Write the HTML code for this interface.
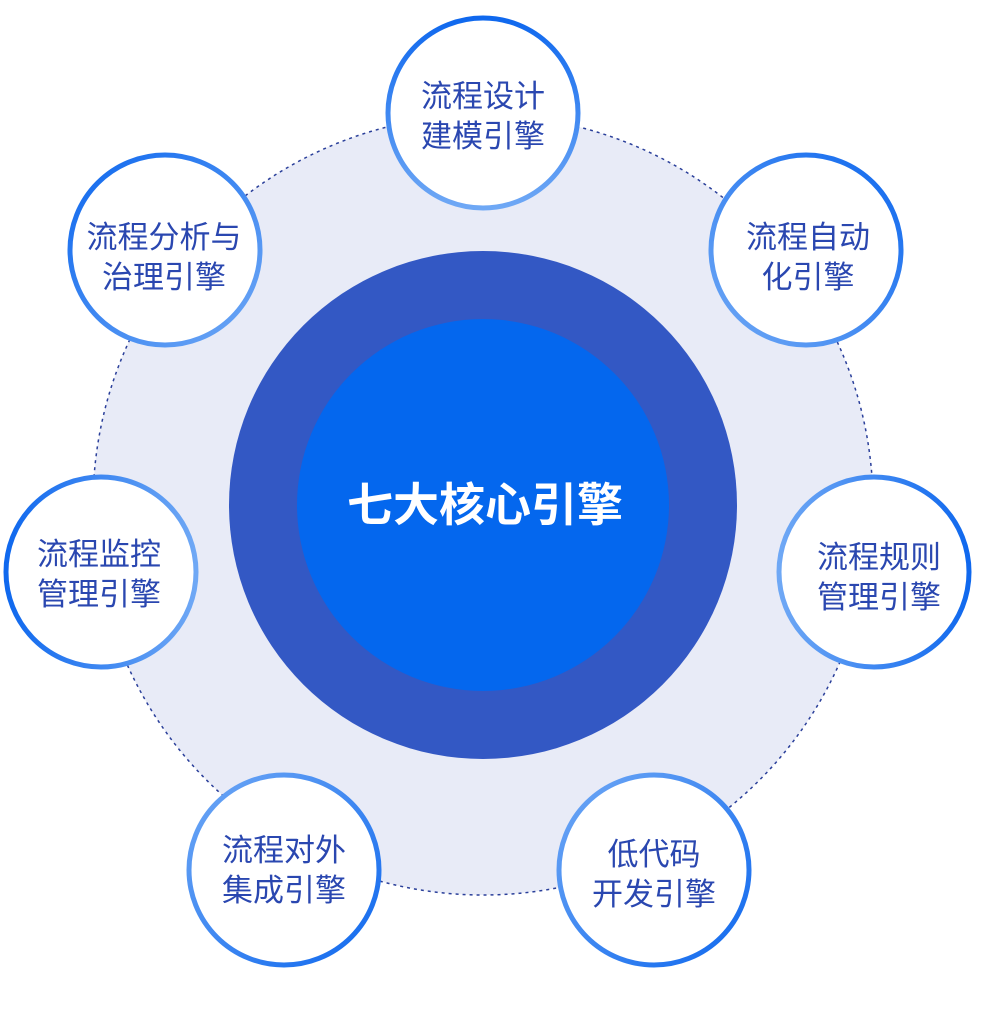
<!DOCTYPE html>
<html><head><meta charset="utf-8"><style>
html,body{margin:0;padding:0;background:#fff;width:990px;height:1010px;overflow:hidden}
svg text{font-family:"Liberation Sans","Noto Sans CJK SC",sans-serif}
</style></head><body>
<svg width="990" height="1010" viewBox="0 0 990 1010" xmlns="http://www.w3.org/2000/svg">
<defs>
<linearGradient id="g1" x1="0" y1="0" x2="0" y2="1"><stop offset="0" stop-color="#0f68ee"/><stop offset="1" stop-color="#6fa8f5"/></linearGradient>
<linearGradient id="g2" x1="1" y1="0" x2="0" y2="1"><stop offset="0" stop-color="#0f68ee"/><stop offset="1" stop-color="#6fa8f5"/></linearGradient>
<linearGradient id="g3" x1="1" y1="0.5" x2="0" y2="0.5"><stop offset="0" stop-color="#0f68ee"/><stop offset="1" stop-color="#6fa8f5"/></linearGradient>
<linearGradient id="g4" x1="1" y1="1" x2="0" y2="0"><stop offset="0" stop-color="#0f68ee"/><stop offset="1" stop-color="#6fa8f5"/></linearGradient>
<linearGradient id="g6" x1="0" y1="0.5" x2="1" y2="0.5"><stop offset="0" stop-color="#0f68ee"/><stop offset="1" stop-color="#6fa8f5"/></linearGradient>
<linearGradient id="g7" x1="0" y1="0" x2="1" y2="1"><stop offset="0" stop-color="#0f68ee"/><stop offset="1" stop-color="#6fa8f5"/></linearGradient>
</defs>
<circle cx="483" cy="505" r="390" fill="#e8ebf7" stroke="#2a3f9a" stroke-width="1.5" stroke-dasharray="3 4"/>
<circle cx="483" cy="505" r="254" fill="#3358c4"/>
<circle cx="483" cy="505" r="186" fill="#0467ee"/>
<text x="485" y="521" text-anchor="middle" font-size="46" font-weight="bold" fill="#fff">七大核心引擎</text>
<g fill="#fff" stroke-width="5">
<circle cx="483" cy="113" r="95" stroke="url(#g1)"/>
<circle cx="806" cy="250" r="95" stroke="url(#g2)"/>
<circle cx="874" cy="572" r="95" stroke="url(#g3)"/>
<circle cx="654" cy="870" r="95" stroke="url(#g4)"/>
<circle cx="284" cy="870" r="95" stroke="url(#g4)"/>
<circle cx="101" cy="572" r="95" stroke="url(#g6)"/>
<circle cx="165" cy="250" r="95" stroke="url(#g7)"/>
</g>
<g font-size="31" fill="#2a47b0" text-anchor="middle">
<text x="483" y="107">流程设计</text><text x="483" y="147">建模引擎</text>
<text x="808" y="248">流程自动</text><text x="808" y="288">化引擎</text>
<text x="879" y="568">流程规则</text><text x="879" y="608">管理引擎</text>
<text x="654" y="865">低代码</text><text x="654" y="905">开发引擎</text>
<text x="284" y="861">流程对外</text><text x="284" y="901">集成引擎</text>
<text x="99" y="565">流程监控</text><text x="99" y="605">管理引擎</text>
<text x="164" y="248">流程分析与</text><text x="164" y="288">治理引擎</text>
</g>
</svg>
</body></html>
